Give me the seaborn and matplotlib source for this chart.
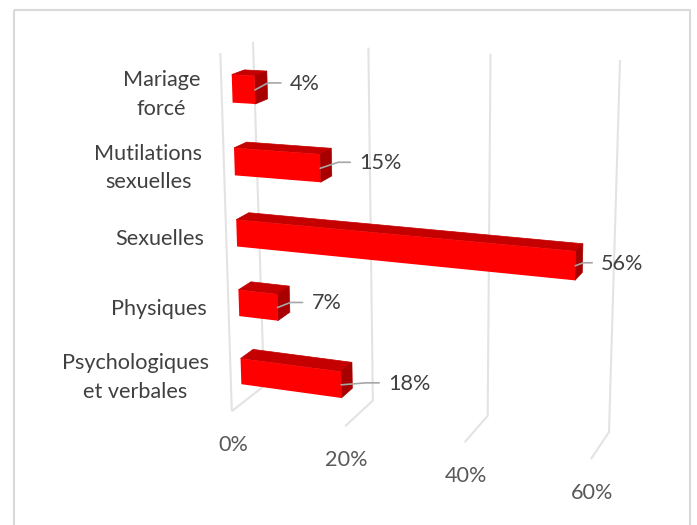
import numpy as np
import seaborn as sns
import matplotlib.pyplot as plt
from matplotlib.patches import Polygon, Rectangle
from matplotlib.transforms import Affine2D, Transform

# values from the chart
categories = ['Mariage\nforcé', 'Mutilations\nsexuelles', 'Sexuelles', 'Physiques', 'Psychologiques\net verbales']
values = [4, 15, 56, 7, 18]
tick_values = [0, 20, 40, 60]

sns.set_theme(style='white')
plt.rcParams['font.family'] = ['Lato', 'DejaVu Sans']
font_size = 15.6


# homography from four corner pairs
def solve_h(src, dst):
    rows, rhs = [], []
    for (a, b), (u, v) in zip(src, dst):
        rows.append([a, b, 1, 0, 0, 0, -a * u, -b * u])
        rows.append([0, 0, 0, a, b, 1, -a * v, -b * v])
        rhs += [u, v]
    return np.append(np.linalg.solve(np.array(rows, float), np.array(rhs, float)), 1).reshape(3, 3)


def apply_h(H, xy):
    xy = np.atleast_2d(np.asarray(xy, float))
    p = np.c_[xy, np.ones(len(xy))] @ H.T
    return p[:, :2] / p[:, 2:]


class Persp(Transform):
    input_dims = 2
    output_dims = 2

    def __init__(self, H):
        super().__init__()
        self.H = H

    def transform_non_affine(self, values):
        return apply_h(self.H, values)


# the 3d view: front plane of the bars and the back wall
corners = [(0, -0.5), (60, -0.5), (0, 4.5), (60, 4.5)]
H_front = solve_h(corners, [(231, 51.5), (607, 69), (242, 405), (597, 456)])
H_wall = solve_h([(0, 0), (60, 0), (0, 1), (60, 1)], [(253, 42), (620, 60), (264, 386), (609, 432)])
vanish = np.array([1049, -228])
bar_depth = 0.0155
floor_depth = -0.041


def along_depth(p, k):
    return p + k * (vanish - p)


fig, ax = plt.subplots(figsize=(6.97, 5.25), dpi=100)
fig.subplots_adjust(0, 0, 1, 1)
px = Affine2D().scale(1, -1).translate(0, 525)

sns.barplot(x=values, y=categories, orient='h', width=0.38, color='#FF0000', saturation=1, ax=ax, zorder=3)
ax.axis('off')

# outer frame
ax.add_patch(Rectangle((13.5, 9.5), 676.5, 560, fill=False, ec='#D9D9D9', lw=1.5, transform=px))

# gridlines, wall then floor
grid_kw = dict(color='#E3E3E3', lw=1.5, transform=px, zorder=1, solid_capstyle='butt')
for v in tick_values:
    top, bottom = apply_h(H_wall, [(v, 0), (v, 1)])
    front = along_depth(bottom, floor_depth)
    ax.plot([top[0], bottom[0], front[0]], [top[1], bottom[1], front[1]], **grid_kw)
    ax.text(front[0] + 1, front[1] + 34, f'{v}%', color='#595959', fontsize=font_size, ha='center', va='center', transform=px)
    if v == 0:
        corner = along_depth(top, floor_depth)
        ax.plot([corner[0], front[0]], [corner[1], front[1]], **grid_kw)

# bars: seaborn draws the front faces, top and side come from them
elbow_dx = [13, 18, 8, 13, 25]
elbow_dy = [-7, -6, -3, -5, -2]
leader_dx = [26, 30, 17, 25, 38]
for i, bar in enumerate(ax.patches[:len(values)]):
    bar.set_transform(Persp(H_front) + px)
    bar.set_linewidth(0)
    y0, y1 = bar.get_y(), bar.get_y() + bar.get_height()
    v = bar.get_width()
    tl, tr, br = apply_h(H_front, [(0, y0), (v, y0), (v, y1)])
    tl_b, tr_b, br_b = [along_depth(p, bar_depth) for p in (tl, tr, br)]
    ax.add_patch(Polygon([tl, tr, tr_b, tl_b], fc='#C40000', ec='#C40000', lw=0.5, transform=px, zorder=2))
    ax.add_patch(Polygon([tr, br, br_b, tr_b], fc='#A80000', ec='#A80000', lw=0.5, transform=px, zorder=2))

    # category label left of the bar
    mid = apply_h(H_front, [(0, i)])[0]
    ax.text(mid[0] - 32, mid[1] + 6, categories[i], color='#404040', fontsize=font_size, ha='right', va='center',
            multialignment='center', linespacing=1.52, transform=px)

    # leader line and value label
    start = apply_h(H_front, [(v, i)])[0]
    ex, ey = start[0] + elbow_dx[i], start[1] + elbow_dy[i]
    lx = start[0] + leader_dx[i]
    ax.plot([start[0], ex, lx], [start[1], ey, ey], color='#A6A6A6', lw=1.2, transform=px, zorder=4)
    ax.text(lx + 9, ey + 1, f'{values[i]}%', color='#404040', fontsize=font_size, ha='left', va='center', transform=px)

fig.savefig('out.png')
